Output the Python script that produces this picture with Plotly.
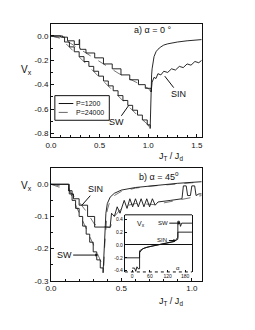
import plotly.graph_objects as go

# ---------------- data ----------------
# panel a) alpha = 0
a_sw_p1200_x = [0, 0.10, 0.14, 0.19, 0.24, 0.29, 0.34, 0.39, 0.44, 0.49, 0.54, 0.59, 0.64, 0.69, 0.74, 0.79, 0.84, 0.89, 0.94, 0.99, 1.02]
a_sw_p1200_y = [0, -0.01, -0.05, -0.09, -0.13, -0.17, -0.21, -0.25, -0.29, -0.33, -0.37, -0.41, -0.45, -0.49, -0.53, -0.57, -0.61, -0.65, -0.69, -0.73, -0.76]
a_sw_p24000_x = [0, 0.10, 0.15, 0.20, 0.30, 0.40, 0.50, 0.60, 0.70, 0.80, 0.90, 1.00, 1.02]
a_sw_p24000_y = [0, -0.02, -0.06, -0.10, -0.18, -0.26, -0.34, -0.42, -0.50, -0.58, -0.66, -0.73, -0.77]
a_sw_after_x = [1.02, 1.025, 1.03, 1.035, 1.04, 1.05, 1.06, 1.08, 1.10, 1.13, 1.16, 1.20, 1.25, 1.30, 1.40, 1.50, 1.55]
a_sw_after_y = [-0.76, -0.55, -0.40, -0.32, -0.27, -0.21, -0.17, -0.13, -0.11, -0.09, -0.075, -0.065, -0.055, -0.05, -0.04, -0.035, -0.03]
a_sin_p1200_x = [0, 0.12, 0.17, 0.24, 0.29, 0.295, 0.30, 0.36, 0.45, 0.54, 0.63, 0.72, 0.81, 0.90, 0.97, 1.03]
a_sin_p1200_y = [0, -0.01, -0.04, -0.07, -0.03, -0.10, -0.11, -0.14, -0.18, -0.23, -0.27, -0.32, -0.36, -0.40, -0.43, -0.46]
a_sin_p24000_x = [0, 0.12, 0.20, 0.30, 0.40, 0.50, 0.60, 0.70, 0.80, 0.90, 1.00, 1.03]
a_sin_p24000_y = [0, -0.02, -0.06, -0.11, -0.16, -0.21, -0.26, -0.31, -0.35, -0.39, -0.43, -0.46]
a_sin_after_x = [1.03, 1.04, 1.06, 1.08, 1.10, 1.13, 1.16, 1.20, 1.24, 1.28, 1.32, 1.36, 1.40, 1.44, 1.48, 1.52, 1.55]
a_sin_after_y = [-0.46, -0.38, -0.34, -0.35, -0.31, -0.32, -0.29, -0.30, -0.27, -0.28, -0.25, -0.26, -0.23, -0.24, -0.21, -0.22, -0.20]

# panel b) alpha = 45
b_sw_p1200_x = [0, 0.125, 0.15, 0.175, 0.20, 0.225, 0.25, 0.275, 0.30, 0.325, 0.35, 0.37]
b_sw_p1200_y = [0, -0.02, -0.05, -0.075, -0.10, -0.13, -0.155, -0.18, -0.21, -0.235, -0.26, -0.275]
b_sw_after_x = [0.37, 0.375, 0.38, 0.39, 0.40, 0.42, 0.45, 0.50, 0.60, 0.70, 0.80, 0.90, 1.00, 1.07]
b_sw_after_y = [-0.275, -0.22, -0.15, -0.09, -0.06, -0.04, -0.028, -0.018, -0.01, -0.005, -0.001, 0.003, 0.006, 0.008]
b_sw_p24000_x = [0, 0.125, 0.15, 0.20, 0.25, 0.30, 0.35, 0.375, 0.38, 0.39, 0.40, 0.42, 0.45, 0.50, 0.60, 0.70, 0.80, 0.90, 1.00, 1.07]
b_sw_p24000_y = [0, -0.01, -0.04, -0.09, -0.14, -0.19, -0.24, -0.26, -0.20, -0.12, -0.08, -0.05, -0.035, -0.022, -0.012, -0.006, -0.002, 0.002, 0.005, 0.007]
b_sin_p1200_x = [0, 0.13, 0.16, 0.20, 0.26, 0.31, 0.42]
b_sin_p1200_y = [0, -0.03, -0.045, -0.065, -0.10, -0.133, -0.133]
b_sin_after_x = [0.42, 0.43, 0.45, 0.47, 0.49, 0.50, 0.52, 0.54, 0.56, 0.58, 0.60, 0.62, 0.64, 0.66, 0.68, 0.70, 0.72, 0.74, 0.76, 0.85, 0.93, 0.94, 0.96, 0.97, 0.99, 1.00, 1.02, 1.03, 1.05, 1.07]
b_sin_after_y = [-0.133, -0.09, -0.10, -0.07, -0.09, -0.075, -0.05, -0.075, -0.045, -0.07, -0.045, -0.07, -0.045, -0.07, -0.045, -0.07, -0.045, -0.065, -0.055, -0.05, -0.045, -0.005, -0.005, -0.035, -0.035, -0.005, -0.005, -0.035, -0.03, -0.03]
b_sin_p24000_x = [0, 0.13, 0.20, 0.26, 0.31, 0.42, 0.45, 0.50, 0.55, 0.60, 0.70, 0.75, 0.80, 0.90, 1.00, 1.07]
b_sin_p24000_y = [0, -0.02, -0.055, -0.09, -0.125, -0.135, -0.10, -0.075, -0.065, -0.06, -0.062, -0.064, -0.058, -0.05, -0.04, -0.035]

# inset: Vx versus alpha
in_sw_alpha = [0, 8, 12, 16, 20, 25, 25, 35, 50, 70, 90, 110, 130, 145, 155, 155, 160, 164, 168, 172, 203]
in_sw_v = [-0.36, -0.36, -0.41, -0.34, -0.37, -0.37, -0.12, -0.06, -0.035, -0.015, 0, 0.015, 0.035, 0.06, 0.12, 0.37, 0.37, 0.29, 0.34, 0.34, 0.34]
in_sin_alpha = [-25, 25, 25, 40, 60, 90, 120, 140, 155, 155, 203]
in_sin_v = [-0.2, -0.2, -0.09, -0.05, -0.025, 0, 0.025, 0.05, 0.09, 0.2, 0.2]

a_xticks = [0, 0.5, 1.0, 1.5]
a_yticks = [0, -0.2, -0.4, -0.6, -0.8]
b_xticks = [0, 0.5, 1.0]
b_yticks = [0, -0.1, -0.2, -0.3]
in_xticks = [0, 60, 120, 180]
in_yticks = [-0.4, -0.2, 0, 0.2, 0.4]

W, H = 255, 330
FONT = "Liberation Sans, Arial, sans-serif"
BLK = "#111111"
GRY = "#666666"
LW = 0.9


def px(x):
    return x / W


def py(y):
    return 1 - y / H


fig = go.Figure()


def line(x, y, xa, ya, color=BLK, dash="solid", shape="linear", width=LW):
    fig.add_trace(go.Scatter(x=x, y=y, xaxis=xa, yaxis=ya, mode="lines",
                             line=dict(color=color, dash=dash, shape=shape, width=width),
                             showlegend=False, hoverinfo="skip"))


# panel a
line(a_sw_p24000_x, a_sw_p24000_y, "x", "y", GRY, "dash")
line(a_sin_p24000_x, a_sin_p24000_y, "x", "y", GRY, "dash")
line(a_sw_p1200_x, a_sw_p1200_y, "x", "y", shape="hv")
line(a_sin_p1200_x, a_sin_p1200_y, "x", "y", shape="hv")
line(a_sw_after_x, a_sw_after_y, "x", "y")
line(a_sin_after_x, a_sin_after_y, "x", "y")

# panel b
line(b_sw_p24000_x, b_sw_p24000_y, "x2", "y2", GRY, "dash")
line(b_sin_p24000_x, b_sin_p24000_y, "x2", "y2", GRY, "dash")
line(b_sw_p1200_x, b_sw_p1200_y, "x2", "y2", shape="hv")
line(b_sw_after_x, b_sw_after_y, "x2", "y2")
line(b_sin_p1200_x, b_sin_p1200_y, "x2", "y2", shape="hv")
line(b_sin_after_x, b_sin_after_y, "x2", "y2")

# inset
line(in_sw_alpha, in_sw_v, "x3", "y3")
line(in_sin_alpha, in_sin_v, "x3", "y3")

tickfont = dict(family=FONT, size=8, color=BLK)
common = dict(showline=True, linecolor=BLK, linewidth=1, mirror=True, ticks="inside",
              ticklen=3, tickcolor=BLK, showgrid=False, zeroline=False, tickfont=tickfont)

fig.update_layout(
    width=W, height=H, margin=dict(l=0, r=0, t=0, b=0),
    paper_bgcolor="white", plot_bgcolor="white",
    font=dict(family=FONT, color=BLK),
    xaxis=dict(domain=[px(38), px(193)], range=[0, 1.55], anchor="y",
               tickvals=a_xticks, ticktext=["0.0", "0.5", "1.0", "1.5"],
               minor=dict(ticks="inside", dtick=0.1, ticklen=2, tickcolor=BLK), **common),
    yaxis=dict(domain=[py(131), py(16)], range=[-0.83, 0.1], anchor="x",
               tickvals=a_yticks, ticktext=["0.0", "-0.2", "-0.4", "-0.6", "-0.8"],
               minor=dict(ticks="inside", dtick=0.1, ticklen=2, tickcolor=BLK), **common),
    xaxis2=dict(domain=[px(38), px(193)], range=[0, 1.07], anchor="y2",
                tickvals=b_xticks, ticktext=["0.0", "0.5", "1.0"],
                minor=dict(ticks="inside", dtick=0.1, ticklen=2, tickcolor=BLK), **common),
    yaxis2=dict(domain=[py(277), py(162)], range=[-0.3, 0.052], anchor="x2",
                tickvals=b_yticks, ticktext=["0.0", "-0.1", "-0.2", "-0.3"],
                minor=dict(ticks="inside", dtick=0.05, ticklen=2, tickcolor=BLK), **common),
    xaxis3=dict(domain=[px(114), px(183)], range=[-25, 203], anchor="y3",
                tickvals=in_xticks, ticktext=["0", "60", "120", "180"],
                showline=False, ticks="inside", ticklen=2, tickcolor=BLK,
                showgrid=False, zeroline=False,
                tickfont=dict(family=FONT, size=5, color=BLK)),
    yaxis3=dict(domain=[py(268), py(210)], range=[-0.42, 0.47], anchor="x3",
                tickvals=in_yticks, ticktext=["-0.4", "-0.2", "0.0", "0.2", "0.4"],
                showline=True, linecolor=BLK, linewidth=1, mirror=True,
                ticks="inside", ticklen=2, tickcolor=BLK, showgrid=False,
                zeroline=True, zerolinecolor=BLK, zerolinewidth=1,
                tickfont=dict(family=FONT, size=5, color=BLK)),
)

# inset frame: white background, top solid, bottom dotted
fig.add_shape(type="rect", xref="paper", yref="paper", x0=px(114), x1=px(183),
              y0=py(268), y1=py(210), fillcolor="white", line=dict(width=0), layer="below")
fig.add_shape(type="line", xref="paper", yref="paper", x0=px(114), x1=px(183),
              y0=py(210), y1=py(210), line=dict(color=BLK, width=1))
fig.add_shape(type="line", xref="paper", yref="paper", x0=px(114), x1=px(183),
              y0=py(268), y1=py(268), line=dict(color=BLK, width=1, dash="dot"))

# legend (panel a)
fig.add_shape(type="rect", xref="paper", yref="paper", x0=px(42), x1=px(98),
              y0=py(114), y1=py(89), line=dict(color=BLK, width=1), fillcolor="white")
fig.add_shape(type="line", xref="paper", yref="paper", x0=px(46), x1=px(61),
              y0=py(97), y1=py(97), line=dict(color=BLK, width=1))
fig.add_shape(type="line", xref="paper", yref="paper", x0=px(46), x1=px(61),
              y0=py(106), y1=py(106), line=dict(color=GRY, width=1, dash="dash"))


def txt(x, y, s, size=8, xanchor="left"):
    fig.add_annotation(x=px(x), y=py(y), xref="paper", yref="paper", text=s,
                       showarrow=False, xanchor=xanchor, yanchor="middle",
                       font=dict(family=FONT, size=size, color=BLK))


txt(62, 97, "P=1200", 7)
txt(62, 106, "P=24000", 7)

txt(121, 22, "a) α = 0 °", 9)
txt(126, 171, "b) α = 45<sup>o</sup>", 9)

txt(5, 63, "V<sub>x</sub>", 10)
txt(5, 181, "V<sub>x</sub>", 10)
txt(147, 151, "J<sub>T</sub> / J<sub>d</sub>", 9)
txt(147, 298, "J<sub>T</sub> / J<sub>d</sub>", 9)

# inset labels
txt(124, 219, "V<sub>x</sub>", 7)
txt(165, 264, "α", 6)


def arrow(x, y, xr, yr, s, ax, ay, head=0, size=9):
    fig.add_annotation(x=x, y=y, xref=xr, yref=yr, text=s, showarrow=True,
                       arrowhead=head, arrowsize=0.6, arrowwidth=1, arrowcolor=BLK,
                       ax=ax, ay=ay, font=dict(family=FONT, size=size, color=BLK))


arrow(0.80, -0.57, "x", "y", "SW", -12, 17)
arrow(1.17, -0.33, "x", "y", "SIN", 14, 18)
arrow(0.22, -0.065, "x2", "y2", "SIN", 14, -16)
arrow(0.335, -0.22, "x2", "y2", "SW", -34, 0, head=2)
arrow(165, 0.34, "x3", "y3", "SW", -18, 0, head=2, size=6)
arrow(150, 0.07, "x3", "y3", "SIN", -14, 0, head=2, size=6)

fig.write_html("out.html")
